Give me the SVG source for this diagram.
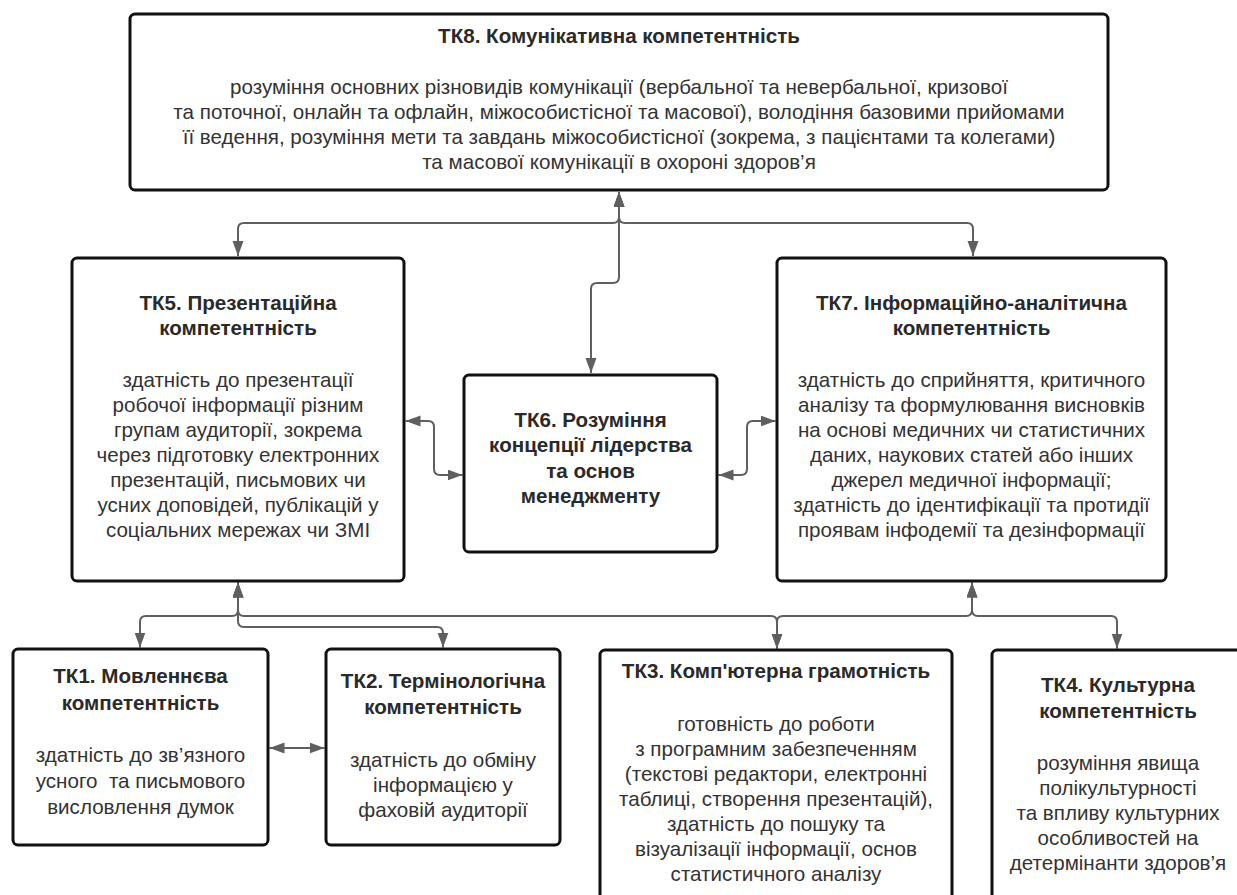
<svg xmlns="http://www.w3.org/2000/svg" width="1237" height="895" viewBox="0 0 1237 895">
<style>
.box{fill:#fff;stroke:#111;stroke-width:3}
.t{font-family:"Liberation Sans",Arial,sans-serif;font-size:20.6px;fill:#333;text-anchor:middle}
.b{font-weight:bold;fill:#2a2a2a}
.c{fill:none;stroke:#5f5f5f;stroke-width:2}
</style>
<defs>
<marker id="ah" markerUnits="userSpaceOnUse" markerWidth="16" markerHeight="12" refX="15" refY="5.5" orient="auto-start-reverse">
<path d="M0,0 L15,5.5 L0,11 z" fill="#5f5f5f"/>
</marker>
</defs>
<rect width="1237" height="895" fill="#fff"/>
<g id="connectors">
<path class="c" d="M619,192 V217 Q619,223 613,223 H244 Q238,223 238,229 V256" marker-start="url(#ah)" marker-end="url(#ah)"/>
<path class="c" d="M619,192 V217 Q619,223 625,223 H967 Q973,223 973,229 V256" marker-start="url(#ah)" marker-end="url(#ah)"/>
<path class="c" d="M619,192 V277 Q619,283 613,283 H597 Q591,283 591,289 V373" marker-start="url(#ah)" marker-end="url(#ah)"/>
<path class="c" d="M405.5,421 H428 Q434,421 434,427 V469 Q434,475 440,475 H462.5" marker-start="url(#ah)" marker-end="url(#ah)"/>
<path class="c" d="M718.5,475 H741 Q747,475 747,469 V427 Q747,421 753,421 H775.5" marker-start="url(#ah)" marker-end="url(#ah)"/>
<path class="c" d="M238,582.5 V610 Q238,616 232,616 H146 Q140,616 140,622 V647.5" marker-start="url(#ah)" marker-end="url(#ah)"/>
<path class="c" d="M238,582.5 V621 Q238,627 244,627 H437 Q443,627 443,633 V647.5" marker-start="url(#ah)" marker-end="url(#ah)"/>
<path class="c" d="M238,582.5 V610 Q238,616 244,616 H771 Q777,616 777,622 V648.5" marker-start="url(#ah)" marker-end="url(#ah)"/>
<path class="c" d="M972,582.5 V610 Q972,616 966,616 H783 Q777,616 777,622 V648.5" marker-start="url(#ah)" marker-end="url(#ah)"/>
<path class="c" d="M972,582.5 V610 Q972,616 978,616 H1111 Q1117,616 1117,622 V648.5" marker-start="url(#ah)" marker-end="url(#ah)"/>
<path class="c" d="M269.5,748 H324.5" marker-start="url(#ah)" marker-end="url(#ah)"/>
</g>
<g id="tk8">
<rect class="box" x="130" y="14" width="978" height="176" rx="5"/>
<text class="t b" x="619" y="43">ТК8. Комунікативна компетентність</text>
<text class="t" x="619" y="94">розуміння основних різновидів комунікації (вербальної та невербальної, кризової</text>
<text class="t" x="619" y="119">та поточної, онлайн та офлайн, міжособистісної та масової), володіння базовими прийомами</text>
<text class="t" x="619" y="144">її ведення, розуміння мети та завдань міжособистісної (зокрема, з пацієнтами та колегами)</text>
<text class="t" x="619" y="169">та масової комунікації в охороні здоров’я</text>
</g>
<g id="tk5">
<rect class="box" x="72" y="258" width="332" height="323" rx="5"/>
<text class="t b" x="238" y="310">ТК5. Презентаційна</text>
<text class="t b" x="238" y="335">компетентність</text>
<text class="t" x="238" y="387">здатність до презентації</text>
<text class="t" x="238" y="412">робочої інформації різним</text>
<text class="t" x="238" y="437">групам аудиторії, зокрема</text>
<text class="t" x="238" y="462">через підготовку електронних</text>
<text class="t" x="238" y="487">презентацій, письмових чи</text>
<text class="t" x="238" y="512">усних доповідей, публікацій у</text>
<text class="t" x="238" y="537">соціальних мережах чи ЗМІ</text>
</g>
<g id="tk6">
<rect class="box" x="464" y="375" width="253" height="177" rx="5"/>
<text class="t b" x="590.5" y="427">ТК6. Розуміння</text>
<text class="t b" x="590.5" y="452">концепції лідерства</text>
<text class="t b" x="590.5" y="478">та основ</text>
<text class="t b" x="590.5" y="503">менеджменту</text>
</g>
<g id="tk7">
<rect class="box" x="777" y="258" width="389" height="323" rx="5"/>
<text class="t b" x="971.5" y="310">ТК7. Інформаційно-аналітична</text>
<text class="t b" x="971.5" y="335">компетентність</text>
<text class="t" x="971.5" y="387">здатність до сприйняття, критичного</text>
<text class="t" x="971.5" y="412">аналізу та формулювання висновків</text>
<text class="t" x="971.5" y="437">на основі медичних чи статистичних</text>
<text class="t" x="971.5" y="462">даних, наукових статей або інших</text>
<text class="t" x="971.5" y="487">джерел медичної інформації;</text>
<text class="t" x="971.5" y="512">здатність до ідентифікації та протидії</text>
<text class="t" x="971.5" y="537">проявам інфодемії та дезінформації</text>
</g>
<g id="tk1">
<rect class="box" x="13" y="649" width="255" height="196" rx="5"/>
<text class="t b" x="140.5" y="683">ТК1. Мовленнєва</text>
<text class="t b" x="140.5" y="710">компетентність</text>
<text class="t" x="140.5" y="762">здатність до зв’язного</text>
<text class="t" x="140.5" y="788" style="white-space:pre">усного  та письмового</text>
<text class="t" x="140.5" y="814">висловлення думок</text>
</g>
<g id="tk2">
<rect class="box" x="326" y="649" width="234" height="196" rx="5"/>
<text class="t b" x="443" y="688">ТК2. Термінологічна</text>
<text class="t b" x="443" y="714">компетентність</text>
<text class="t" x="443" y="767">здатність до обміну</text>
<text class="t" x="443" y="792">інформацією у</text>
<text class="t" x="443" y="817">фаховій аудиторії</text>
</g>
<g id="tk3">
<rect class="box" x="600" y="650" width="352" height="270" rx="5"/>
<text class="t b" x="776" y="678">ТК3. Комп'ютерна грамотність</text>
<text class="t" x="776" y="731">готовність до роботи</text>
<text class="t" x="776" y="756">з програмним забезпеченням</text>
<text class="t" x="776" y="781">(текстові редактори, електронні</text>
<text class="t" x="776" y="806">таблиці, створення презентацій),</text>
<text class="t" x="776" y="831">здатність до пошуку та</text>
<text class="t" x="776" y="856">візуалізації інформації, основ</text>
<text class="t" x="776" y="881">статистичного аналізу</text>
</g>
<g id="tk4">
<rect class="box" x="992" y="650" width="252" height="270" rx="5"/>
<text class="t b" x="1118" y="692">ТК4. Культурна</text>
<text class="t b" x="1118" y="718">компетентність</text>
<text class="t" x="1118" y="770">розуміння явища</text>
<text class="t" x="1118" y="795">полікультурності</text>
<text class="t" x="1118" y="820">та впливу культурних</text>
<text class="t" x="1118" y="845">особливостей на</text>
<text class="t" x="1118" y="870">детермінанти здоров’я</text>
</g>
</svg>
